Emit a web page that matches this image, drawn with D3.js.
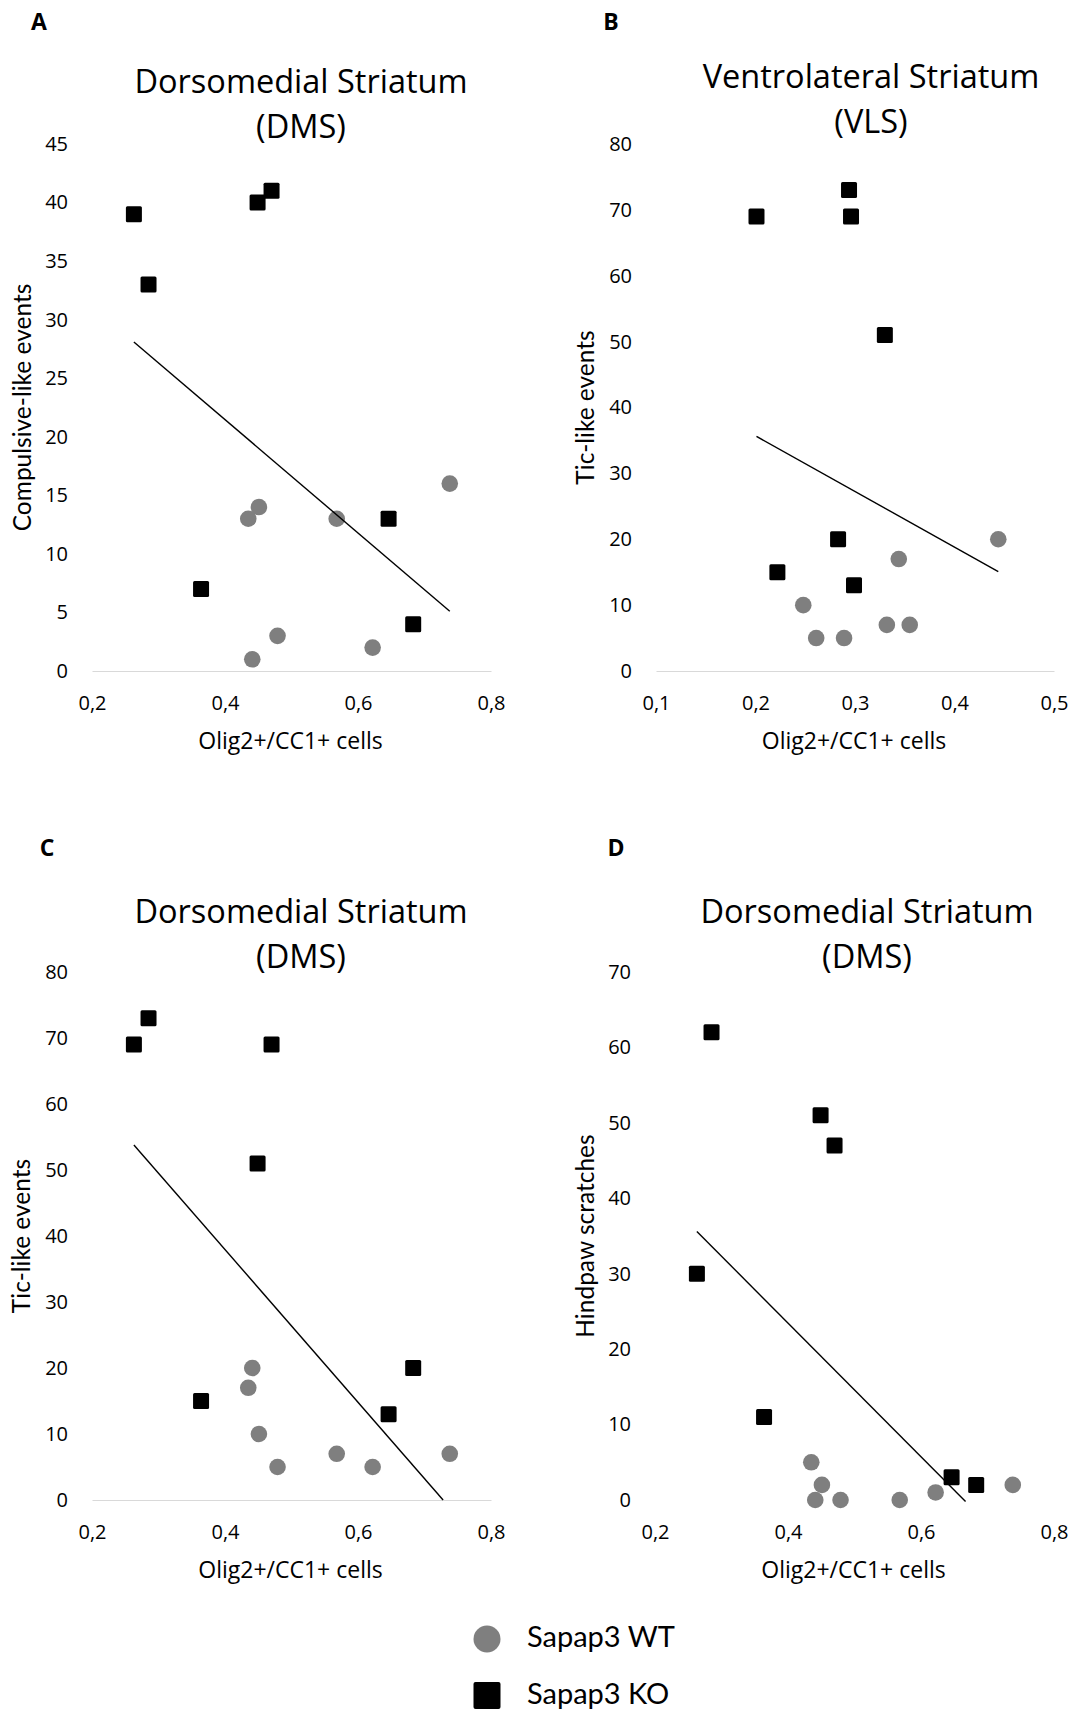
<!DOCTYPE html>
<html>
<head>
<meta charset="utf-8">
<title>Olig2+/CC1+ cells vs behaviour in Sapap3 mice</title>
<script src="https://d3js.org/d3.v7.min.js"></script>
<style>
    body { margin: 0; background: #fff; }
    svg { display: block; font-family: "Open Sans", sans-serif; }
    .tick text { fill: #000; }
</style>
</head>
<body>
<svg id="chart" width="1075" height="1713"></svg>
<script>
// Olig2+/CC1+ cells in the DMS (same mice in panels A, C, D)
const dmsWtX = [0.435, 0.451, 0.568, 0.738, 0.441, 0.479, 0.622];
const dmsKoX = [0.263, 0.285, 0.449, 0.470, 0.364, 0.646, 0.683];
// Olig2+/CC1+ cells in the VLS (panel B)
const vlsWtX = [0.444, 0.344, 0.248, 0.261, 0.289, 0.332, 0.355];
const vlsKoX = [0.201, 0.294, 0.296, 0.330, 0.283, 0.222, 0.299];

// behaviour scores
const compulsiveWt = [13, 14, 13, 16, 1, 3, 2];
const compulsiveKo = [39, 33, 40, 41, 7, 13, 4];
const vlsTicWt = [20, 17, 10, 5, 5, 7, 7];
const vlsTicKo = [69, 73, 69, 51, 20, 15, 13];
const dmsTicWt = [17, 10, 7, 7, 20, 5, 5];
const dmsTicKo = [69, 73, 51, 69, 15, 13, 20];
const scratchWt = [5, 2, 0, 2, 0, 0, 1];
const scratchKo = [30, 62, 51, 47, 11, 3, 2];

// linear trend lines, start and end points as drawn
const trendA = [[0.263, 28.1], [0.738, 5.1]];
const trendB = [[0.201, 35.6], [0.444, 15.1]];
const trendC = [[0.263, 53.8], [0.728, 0]];
const trendD = [[0.263, 35.6], [0.667, -0.2]];

// axis ticks
const dmsXTicks = [0.2, 0.4, 0.6, 0.8];
const vlsXTicks = [0.1, 0.2, 0.3, 0.4, 0.5];
const ticksA = [0, 5, 10, 15, 20, 25, 30, 35, 40, 45];
const ticksB = [0, 10, 20, 30, 40, 50, 60, 70, 80];
const ticksC = [0, 10, 20, 30, 40, 50, 60, 70, 80];
const ticksD = [0, 10, 20, 30, 40, 50, 60, 70];

const seriesNames = ["Sapap3 WT", "Sapap3 KO"];

const panels = [
    { letter: "A", title: ["Dorsomedial Striatum", "(DMS)"], yLabel: "Compulsive-like events",
      wtX: dmsWtX, wtY: compulsiveWt, koX: dmsKoX, koY: compulsiveKo, trend: trendA,
      xTicks: dmsXTicks, yTicks: ticksA,
      left: 92, right: 491, top: 144, bottom: 671, titleX: 301, titleY: 93,
      letterX: 39, letterY: 29, yLabelX: 22, baseline: true },
    { letter: "B", title: ["Ventrolateral Striatum", "(VLS)"], yLabel: "Tic-like events",
      wtX: vlsWtX, wtY: vlsTicWt, koX: vlsKoX, koY: vlsTicKo, trend: trendB,
      xTicks: vlsXTicks, yTicks: ticksB,
      left: 656, right: 1054, top: 144, bottom: 671, titleX: 871, titleY: 88,
      letterX: 611, letterY: 29, yLabelX: 585, baseline: true },
    { letter: "C", title: ["Dorsomedial Striatum", "(DMS)"], yLabel: "Tic-like events",
      wtX: dmsWtX, wtY: dmsTicWt, koX: dmsKoX, koY: dmsTicKo, trend: trendC,
      xTicks: dmsXTicks, yTicks: ticksC,
      left: 92, right: 491, top: 972, bottom: 1500, titleX: 301, titleY: 923,
      letterX: 47, letterY: 855, yLabelX: 21, baseline: true },
    { letter: "D", title: ["Dorsomedial Striatum", "(DMS)"], yLabel: "Hindpaw scratches",
      wtX: dmsWtX, wtY: scratchWt, koX: dmsKoX, koY: scratchKo, trend: trendD,
      xTicks: dmsXTicks, yTicks: ticksD,
      left: 655, right: 1054, top: 972, bottom: 1500, titleX: 867, titleY: 923,
      letterX: 616, letterY: 855, yLabelX: 585, baseline: false }
];

const svg = d3.select("#chart");
const comma = d3.formatLocale({ decimal: ",", thousands: ".", grouping: [3], currency: ["", ""] });
const xFmt = comma.format(".1f");

const GREY = "#7f7f7f";
const SQ = 16;
const R = 8.3;

panels.forEach(p => {
    const g = svg.append("g");

    const xExt = d3.extent(p.xTicks);
    const x = d3.scaleLinear().domain(xExt).range([p.left, p.right]);
    const y = d3.scaleLinear().domain([0, d3.max(p.yTicks)]).range([p.bottom, p.top]);

    // panel letter
    g.append("text")
        .attr("x", p.letterX).attr("y", p.letterY + 1)
        .attr("text-anchor", "middle")
        .style("font-weight", "bold").style("font-size", "23px")
        .text(p.letter);

    // title (two lines)
    g.append("text")
        .attr("text-anchor", "middle")
        .style("font-size", "32.5px")
        .selectAll("tspan")
        .data(p.title)
        .join("tspan")
        .attr("x", p.titleX)
        .attr("y", (d, i) => p.titleY + i * 45)
        .text(d => d);

    // y axis
    const yAxis = g.append("g")
        .attr("transform", `translate(${p.left},0)`)
        .call(d3.axisLeft(y).tickValues(p.yTicks).tickSize(0).tickPadding(24));
    yAxis.select(".domain").remove();
    yAxis.selectAll("text").style("font-size", "20px").style("font-family", "Open Sans");

    // x axis
    const xAxis = g.append("g")
        .attr("transform", `translate(0,${p.bottom})`)
        .call(d3.axisBottom(x).tickValues(p.xTicks).tickSize(0).tickPadding(25).tickFormat(xFmt));
    if (p.baseline) {
        xAxis.select(".domain").attr("stroke", "#d9d9d9").attr("stroke-width", 1.2);
    } else {
        xAxis.select(".domain").remove();
    }
    xAxis.selectAll("text").style("font-size", "20px").style("font-family", "Open Sans");

    // axis titles
    g.append("text")
        .attr("x", (p.left + p.right) / 2 - 1)
        .attr("y", p.bottom + 78)
        .attr("text-anchor", "middle")
        .style("font-size", "23px")
        .text("Olig2+/CC1+ cells");

    g.append("text")
        .attr("transform", `translate(${p.yLabelX},${(p.top + p.bottom) / 2}) rotate(-90)`)
        .attr("text-anchor", "middle")
        .attr("dy", "0.35em")
        .style("font-family", "Lato")
        .style("font-size", "24.5px")
        .text(p.yLabel);

    // WT circles
    g.selectAll(".wt")
        .data(p.wtX.map((v, i) => [v, p.wtY[i]]))
        .join("circle")
        .attr("class", "wt")
        .attr("cx", d => x(d[0]))
        .attr("cy", d => y(d[1]))
        .attr("r", R)
        .attr("fill", GREY);

    // KO squares
    g.selectAll(".ko")
        .data(p.koX.map((v, i) => [v, p.koY[i]]))
        .join("rect")
        .attr("class", "ko")
        .attr("x", d => x(d[0]) - SQ / 2)
        .attr("y", d => y(d[1]) - SQ / 2)
        .attr("width", SQ).attr("height", SQ)
        .attr("rx", 1.5)
        .attr("fill", "#000");

    // trend line
    g.append("path")
        .datum(p.trend)
        .attr("d", d3.line().x(d => x(d[0])).y(d => y(d[1])))
        .attr("fill", "none")
        .attr("stroke", "#000")
        .attr("stroke-width", 1.4);
});

// legend
const legend = svg.append("g").attr("transform", "translate(487,0)");
legend.append("circle").attr("cx", 0).attr("cy", 1639).attr("r", 13.5).attr("fill", GREY);
legend.append("rect").attr("x", -13.5).attr("y", 1682).attr("width", 27).attr("height", 27)
    .attr("rx", 2).attr("fill", "#000");
legend.selectAll(".lg")
    .data(seriesNames)
    .join("text")
    .attr("class", "lg")
    .attr("x", 40)
    .attr("y", (d, i) => 1637 + i * 57)
    .attr("dy", "0.35em")
    .style("font-family", "Lato")
    .style("font-size", "29px")
    .text(d => d);
</script>
</body>
</html>
